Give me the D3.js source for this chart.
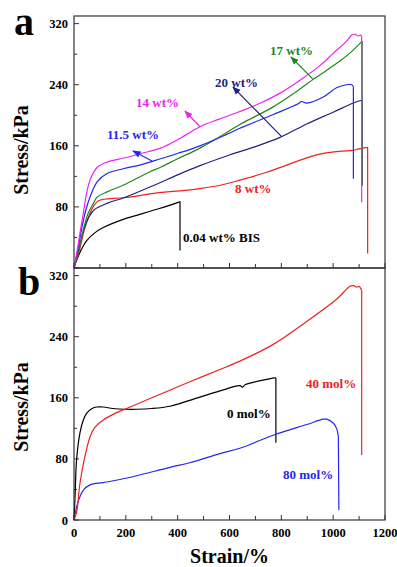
<!DOCTYPE html>
<html><head><meta charset="utf-8">
<script src="https://cdn.jsdelivr.net/npm/d3@7"></script>
<style>body{margin:0;background:#fff;}svg{display:block;}</style>
</head><body>
<script>
// ---------- DATA (strain %, stress kPa) ----------
const xTicks = [0, 200, 400, 600, 800, 1000, 1200];
const yTicksA = [80, 160, 240, 320];
const yTicksB = [0, 80, 160, 240, 320];

// Panel a (crosslinker content)
const curveBIS = [[0,0],[5,6],[10,10],[25,22],[49,36],[80,46],[113,53],[193,64],[242,69],[320,77],[402,86],[409,87],[409,23]];
const curve8 = [[0,0],[20,22],[36,45],[55,66],[77,82],[95,88],[116,90],[193,92],[293,97],[334,99],[409,101],[486,104],[560,108],[640,115],[740,125],[808,133],[870,141],[962,150],[1030,153],[1077,154],[1100,156],[1133,158],[1133,19]];
const curve11 = [[0,0],[15,25],[30,52],[45,75],[64,95],[90,113],[129,124],[190,130],[257,135],[334,143],[400,150],[486,160],[583,174],[640,183],[769,201],[865,215],[878,218],[898,216],[962,224],[1013,236],[1052,240],[1072,240],[1078,238],[1078,117]];
const curve14 = [[0,0],[15,28],[25,50],[36,72],[51,102],[65,118],[90,132],[130,139],[193,144],[260,150],[334,157],[400,168],[486,185],[560,195],[640,205],[720,216],[795,229],[872,246],[949,265],[1000,281],[1052,297],[1072,305],[1085,306],[1095,304],[1105,305],[1110,303],[1110,86]];
const curve17 = [[0,0],[20,25],[36,50],[55,72],[75,85],[90,93],[130,100],[193,109],[293,126],[334,132],[400,143],[486,157],[583,176],[640,188],[769,211],[850,229],[923,247],[1026,271],[1070,283],[1112,297],[1112,108]];
const curve20 = [[0,0],[15,20],[36,48],[55,65],[77,76],[130,85],[193,92],[293,106],[334,112],[400,122],[486,134],[600,148],[700,159],[795,171],[900,189],[1000,204],[1078,216],[1112,220],[1112,108]];

// Panel b (mol%)
const curve0mol = [[0,0],[4,30],[10,79],[23,114],[35,130],[49,140],[70,146],[87,148],[113,148],[150,146],[200,145],[242,145],[300,146],[370,149],[450,157],[563,169],[640,176],[650,174],[660,177],[775,186],[779,186],[779,101]];
const curve40mol = [[0,0],[10,10],[23,48],[40,80],[62,109],[80,121],[113,131],[160,140],[203,146],[300,160],[370,170],[447,181],[563,197],[640,208],[769,230],[898,260],[1013,289],[1065,306],[1078,307],[1090,305],[1100,306],[1107,303],[1110,300],[1110,85]];
const curve80mol = [[0,0],[10,17],[20,28],[36,39],[62,46],[113,49],[177,53],[242,58],[370,69],[447,75],[563,87],[640,94],[769,111],[898,125],[962,132],[975,132],[1000,127],[1013,120],[1020,110],[1022,13]];

const seriesA = [
  {name:"0.04 wt% BIS", data:curveBIS, color:"#000000"},
  {name:"8 wt%", data:curve8, color:"#ee2222"},
  {name:"20 wt%", data:curve20, color:"#23237f"},
  {name:"17 wt%", data:curve17, color:"#1f881f"},
  {name:"11.5 wt%", data:curve11, color:"#2626ee"},
  {name:"14 wt%", data:curve14, color:"#ee22ee"}
];
const seriesB = [
  {name:"0 mol%", data:curve0mol, color:"#000000"},
  {name:"80 mol%", data:curve80mol, color:"#2626ee"},
  {name:"40 mol%", data:curve40mol, color:"#ee2222"}
];

// ---------- LAYOUT ----------
const W = 397, H = 567;
const L = 74, R = 385;
const svg = d3.select("body").append("svg").attr("width", W).attr("height", H);
const font = "'Liberation Serif','Times New Roman',serif";

const x = d3.scaleLinear().domain([0,1200]).range([L,R]);
const yA = d3.scaleLinear().domain([0,330]).range([268,16]);
const yB = d3.scaleLinear().domain([0,330]).range([520,268]);

const defs = svg.append("defs");
function marker(color){
  const id = "m" + color.replace("#","");
  if (defs.select("#"+id).empty()){
    defs.append("marker").attr("id",id).attr("viewBox","0 0 10 10").attr("refX",9).attr("refY",5)
      .attr("markerWidth",7).attr("markerHeight",7).attr("orient","auto")
      .append("path").attr("d","M0,1L10,5L0,9Z").attr("fill",color);
  }
  return "url(#"+id+")";
}

function panel(y, series, yTicks, showX){
  const g = svg.append("g");
  const yMinor = d3.range(0, 321, 40);
  g.selectAll(".yt").data(yMinor).join("line")
    .attr("x1",L).attr("x2",d=>L+(d%80===0?5:3))
    .attr("y1",d=>y(d)).attr("y2",d=>y(d))
    .attr("stroke","#333").attr("stroke-width",1);
  const xMinor = d3.range(0, 1201, 100);
  g.selectAll(".xt").data(xMinor).join("line")
    .attr("x1",d=>x(d)).attr("x2",d=>x(d))
    .attr("y1",y(0)).attr("y2",d=>y(0)-(d%200===0?5:4))
    .attr("stroke","#333").attr("stroke-width",1);
  g.selectAll(".yl").data(yTicks).join("text")
    .attr("x",68).attr("y",d=>y(d)+4.5).attr("text-anchor","end")
    .attr("font-family",font).attr("font-weight","bold").attr("font-size",12.5)
    .text(d=>d);
  if (showX){
    g.selectAll(".xl").data(xTicks).join("text")
      .attr("x",d=>x(d)).attr("y",537).attr("text-anchor","middle")
      .attr("font-family",font).attr("font-weight","bold").attr("font-size",12.5)
      .text(d=>d);
  }
  const line = d3.line().x(d=>x(d[0])).y(d=>y(d[1])).curve(d3.curveCatmullRom.alpha(0.5));
  series.forEach(s=>{
    const main = s.data.slice(0, s.data.length-1);
    const drop = s.data.slice(s.data.length-2);
    g.append("path").attr("d", line(main)).attr("fill","none").attr("stroke",s.color).attr("stroke-width",1.2);
    g.append("path").attr("d", d3.line().x(d=>x(d[0])).y(d=>y(d[1]))(drop)).attr("fill","none").attr("stroke",s.color).attr("stroke-width",1.2);
  });
  g.append("rect").attr("x",L).attr("y",y.range()[1]).attr("width",R-L).attr("height",y.range()[0]-y.range()[1])
    .attr("fill","none").attr("stroke","#333").attr("stroke-width",1.2);
  return g;
}

panel(yA, seriesA, yTicksA, false);
panel(yB, seriesB, yTicksB, true);

// Panel letters
svg.append("text").attr("x",14).attr("y",35).attr("font-family",font).attr("font-weight","bold").attr("font-size",40).text("a");
svg.append("text").attr("x",18).attr("y",295).attr("font-family",font).attr("font-weight","bold").attr("font-size",40).text("b");

// Axis titles
[150, 407].forEach(cy=>{
  svg.append("text").attr("transform",`translate(28,${cy}) rotate(-90)`).attr("text-anchor","middle")
    .attr("font-family",font).attr("font-weight","bold").attr("font-size",20).text("Stress/kPa");
});
svg.append("text").attr("x",(L+R)/2).attr("y",563).attr("text-anchor","middle")
  .attr("font-family",font).attr("font-weight","bold").attr("font-size",20).text("Strain/%");

// Annotations panel a
const annA = [
  {t:"14 wt%", c:"#ee22ee", tx:136, ty:107, from:[486,185], to:[185,111]},
  {t:"11.5 wt%", c:"#2626ee", tx:107, ty:139, from:[301,140], to:[133,151]},
  {t:"17 wt%", c:"#1f881f", tx:270, ty:55, from:[923,247], to:[291,57]},
  {t:"20 wt%", c:"#23237f", tx:215, ty:87, from:[801,172], to:[233,87]},
  {t:"8 wt%", c:"#ee2222", tx:235, ty:193},
  {t:"0.04 wt% BIS", c:"#000000", tx:183, ty:242}
];
annA.forEach(a=>{
  svg.append("text").attr("x",a.tx).attr("y",a.ty).attr("fill",a.c)
    .attr("font-family",font).attr("font-weight","bold").attr("font-size",13).text(a.t);
  if (a.from){
    svg.append("line").attr("x1",x(a.from[0])).attr("y1",yA(a.from[1])).attr("x2",a.to[0]).attr("y2",a.to[1])
      .attr("stroke",a.c).attr("stroke-width",1.2).attr("marker-end",marker(a.c));
  }
});
const annB = [
  {t:"0 mol%", c:"#000000", tx:227, ty:418},
  {t:"40 mol%", c:"#ee2222", tx:306, ty:388},
  {t:"80 mol%", c:"#2626ee", tx:283, ty:479}
];
annB.forEach(a=>{
  svg.append("text").attr("x",a.tx).attr("y",a.ty).attr("fill",a.c)
    .attr("font-family",font).attr("font-weight","bold").attr("font-size",13).text(a.t);
});
</script>
</body></html>
